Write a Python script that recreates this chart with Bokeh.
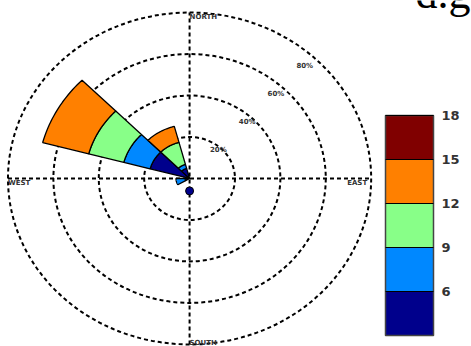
import numpy as np
from bokeh.plotting import figure
from bokeh.models import (ColumnDataSource, LinearColorMapper, ColorBar,
                          FixedTicker, Label, Range1d)
from bokeh.core.properties import value
from bokeh.embed import file_html
from bokeh.resources import INLINE

# Wind rose sectors: centre bearing (compass degrees) and angular width
sector_bearing = [300, 330, 255]
sector_width = 30

# Cumulative frequency (%) reached by each speed class in every sector
cum_class1 = [18, 5, 2]      # 3-6
cum_class2 = [30, 7, 6]      # 6-9
cum_class3 = [46, 18, 6]     # 9-12
cum_class4 = [67, 26, 6]     # 12-15

# Speed-class colour scale
class_bounds = [3, 6, 9, 12, 15, 18]
class_colors = ["#00008C", "#0088FF", "#88FF88", "#FF8000", "#800000"]
colorbar_ticks = [6, 9, 12, 15, 18]

# Frequency rings
ring_pct = [20, 40, 60, 80]
ring_labels = ["20%", "40%", "60%", "80%"]

# Calm marker
calm_bearing = 180
calm_dist = 6

p = figure(width=471, height=346, output_backend="svg", toolbar_location=None,
           x_axis_type=None, y_axis_type=None, min_border=0,
           x_range=Range1d(-83.3, 124.2), y_range=Range1d(-81.0, 85.8))
p.grid.visible = False
p.outline_line_color = None
p.background_fill_color = "white"
p.border_fill_color = "white"

dash = "4 3"
rmax = ring_pct[-1]

# dashed frequency rings
p.ellipse(x=0, y=0, width=[2 * r for r in ring_pct], height=[2 * r for r in ring_pct],
          fill_color=None, line_color="black", line_width=2, line_dash=dash)
# cross hair
p.segment(x0=[-rmax, 0], y0=[0, -rmax], x1=[rmax, 0], y1=[0, rmax],
          line_color="black", line_width=2, line_dash=dash)


def math_angle(bearing):
    return np.deg2rad(90 - bearing)


def sector_patch(bearing, r0, r1):
    a0 = math_angle(bearing + sector_width / 2)
    a1 = math_angle(bearing - sector_width / 2)
    t = np.linspace(a0, a1, 24)
    xs = list(r1 * np.cos(t))
    ys = list(r1 * np.sin(t))
    if r0 > 0:
        xs += list(r0 * np.cos(t[::-1]))
        ys += list(r0 * np.sin(t[::-1]))
    else:
        xs.append(0.0)
        ys.append(0.0)
    return xs, ys


xs, ys, fills = [], [], []
levels = list(zip(cum_class1, cum_class2, cum_class3, cum_class4))
for bearing, cums in zip(sector_bearing, levels):
    inner = 0
    for k, outer in enumerate(cums):
        if outer > inner:
            px, py = sector_patch(bearing, inner, outer)
            xs.append(px)
            ys.append(py)
            fills.append(class_colors[k])
        inner = outer

p.patches(xs=xs, ys=ys, fill_color=fills, line_color="black", line_width=1.3)

# calm marker
ca = math_angle(calm_bearing)
p.scatter(x=[calm_dist * np.cos(ca)], y=[calm_dist * np.sin(ca)], size=8,
          marker="circle", fill_color=class_colors[0], line_color="black", line_width=1)

# ring labels along the north-east diagonal
la = np.deg2rad(47)
p.text(x=[0.93 * r * np.cos(la) for r in ring_pct],
       y=[0.93 * r * np.sin(la) for r in ring_pct],
       text=ring_labels, text_font=value("DejaVu Sans"), text_font_size="7px",
       text_font_style="bold", text_color="#333333",
       text_align="center", text_baseline="middle")

# compass point labels
lab_font = value("DejaVu Sans")
p.text(x=[0], y=[rmax], text=["NORTH"], text_font=lab_font, text_font_size="7px",
       text_font_style="bold", text_color="#333333", text_align="left",
       text_baseline="top", y_offset=0)
p.text(x=[0], y=[-rmax], text=["SOUTH"], text_font=lab_font, text_font_size="7px",
       text_font_style="bold", text_color="#333333", text_align="left",
       text_baseline="middle", y_offset=-1)
p.text(x=[-rmax], y=[0], text=["WEST"], text_font=lab_font, text_font_size="7px",
       text_font_style="bold", text_color="#333333", text_align="left",
       text_baseline="top", y_offset=1)
p.text(x=[rmax], y=[0], text=["EAST"], text_font=lab_font, text_font_size="7px",
       text_font_style="bold", text_color="#333333", text_align="right",
       text_baseline="top", x_offset=-4, y_offset=1)

# speed-class colour bar
mapper = LinearColorMapper(palette=class_colors, low=class_bounds[0], high=class_bounds[-1])
cbar = ColorBar(color_mapper=mapper, ticker=FixedTicker(ticks=colorbar_ticks),
                location=(385, 11), width=48, height=220, padding=0,
                label_standoff=8, major_label_text_font_size="13px",
                major_label_text_font="DejaVu Sans",
                major_label_text_font_style="bold",
                major_label_text_color="#333333",
                major_tick_in=48, major_tick_out=0, major_tick_line_color="black",
                major_tick_line_width=1, minor_tick_line_color=None,
                bar_line_color="#444444", bar_line_width=1.5,
                background_fill_alpha=0, border_line_color=None)
p.add_layout(cbar, "center")

# heading fragment at the top right
p.add_layout(Label(x=415, y=353, x_units="screen", y_units="screen", text="d.g",
                   text_font="Liberation Serif", text_font_size="44px",
                   text_color="black", text_baseline="alphabetic"))

open("out.html", "w").write(file_html(p, INLINE))
